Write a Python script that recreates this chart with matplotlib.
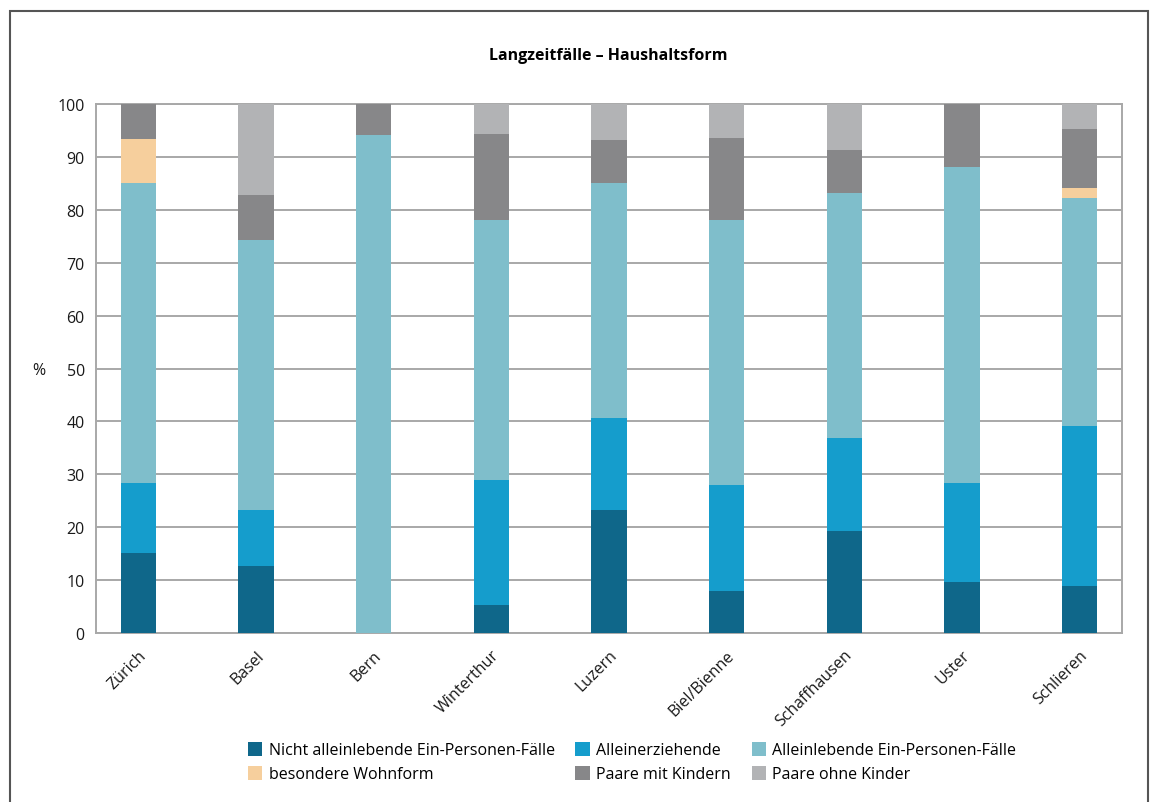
import matplotlib.pyplot as plt
import numpy as np
from matplotlib.patches import Rectangle

plt.rcParams['font.family'] = ['Liberation Sans Narrow', 'Open Sans', 'DejaVu Sans']

staedte = ["Zürich", "Basel", "Bern", "Winterthur", "Luzern", "Biel/Bienne",
           "Schaffhausen", "Uster", "Schlieren"]

# Anteile in %, je Haushaltsform
nicht_alleinlebend = [15.1, 12.7, 0.0, 5.3, 23.3, 7.9, 19.3, 9.6, 8.9]
alleinerziehend = [13.3, 10.6, 0.0, 23.6, 17.3, 20.1, 17.6, 18.8, 30.2]
alleinlebend = [56.7, 51.0, 94.1, 49.2, 44.5, 50.1, 46.3, 59.7, 43.1]
besondere_wohnform = [8.3, 0.0, 0.0, 0.0, 0.0, 0.0, 0.0, 0.0, 1.9]
paare_mit_kindern = [6.6, 8.5, 5.9, 16.2, 8.1, 15.5, 8.1, 11.9, 11.2]
paare_ohne_kinder = [0.0, 17.2, 0.0, 5.7, 6.8, 6.4, 8.7, 0.0, 4.7]

serien = [
    ("Nicht alleinlebende Ein-Personen-Fälle", nicht_alleinlebend, "#0f678a"),
    ("Alleinerziehende", alleinerziehend, "#159dcc"),
    ("Alleinlebende Ein-Personen-Fälle", alleinlebend, "#7fbecb"),
    ("besondere Wohnform", besondere_wohnform, "#f6cf9d"),
    ("Paare mit Kindern", paare_mit_kindern, "#878789"),
    ("Paare ohne Kinder", paare_ohne_kinder, "#b2b3b5"),
]

fig = plt.figure(figsize=(11.55, 8.03), dpi=100)
ax = fig.add_axes([0.0831, 0.2105, 0.8883, 0.6587])

# Rahmen um die ganze Grafik
fig.patches.append(Rectangle((0.0087, -0.05), 0.9853, 1.035, transform=fig.transFigure,
                             fill=False, edgecolor="#555555", linewidth=1.5))

x = np.arange(len(staedte))
unten = np.zeros(len(staedte))
handles = {}
for name, werte, farbe in serien:
    werte = np.array(werte)
    b = ax.bar(x, werte, 0.30, bottom=unten, color=farbe, label=name, zorder=3)
    handles[name] = b
    unten += werte

ax.set_xlim(-0.36, 8.36)
ax.set_ylim(0, 100)
ax.set_yticks(range(0, 101, 10))
ax.yaxis.grid(True, color="#a8a8a8", linewidth=1.4, zorder=0)
for s in ax.spines.values():
    s.set_color("#a8a8a8")
    s.set_linewidth(1.4)
ax.tick_params(axis="both", length=0, labelsize=11.5, colors="#1a1a1a")
ax.tick_params(axis="y", pad=8)
ax.set_xticks(x)
ax.set_xticklabels(staedte, rotation=45, ha="right", rotation_mode="anchor")
ax.tick_params(axis="x", pad=10)

fig.text(0.028, 0.538, "%", fontsize=11.5, ha="left", va="center", color="#1a1a1a")
fig.text(0.527, 0.93, "Langzeitfälle – Haushaltsform", fontsize=11.5, fontweight="bold",
         ha="center", va="center")

ordnung = ["Nicht alleinlebende Ein-Personen-Fälle", "besondere Wohnform",
           "Alleinerziehende", "Paare mit Kindern",
           "Alleinlebende Ein-Personen-Fälle", "Paare ohne Kinder"]
fig.legend([handles[n] for n in ordnung], ordnung, ncol=3, loc="upper left",
           bbox_to_anchor=(0.209, 0.083), frameon=False, fontsize=11.5,
           handlelength=0.9, handleheight=1.0, handletextpad=0.4,
           columnspacing=1.3, labelspacing=0.45, borderaxespad=0)

fig.savefig("out.png", dpi=100)
